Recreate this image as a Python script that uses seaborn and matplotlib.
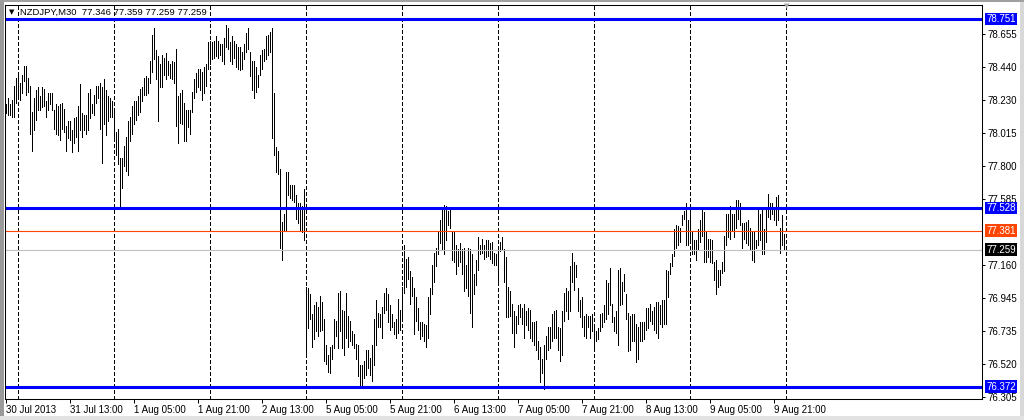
import matplotlib
matplotlib.use("Agg")
import matplotlib.pyplot as plt
from matplotlib.patches import Rectangle
import seaborn as sns
import numpy as np
import pandas as pd

# NZDJPY M30, 30 Jul 2013 21:00 .. 9 Aug 2013 23:30 (one value per bar)
highs = [
    78.20, 78.24, 78.20, 78.23, 78.32, 78.37, 78.38, 78.34, 78.39, 78.45,
    78.45, 78.37, 78.32, 78.15, 78.24, 78.29, 78.31, 78.25, 78.31, 78.30,
    78.22, 78.27, 78.27, 78.27, 78.16, 78.20, 78.19, 78.20, 78.21, 78.17,
    78.06, 78.09, 78.09, 78.03, 78.11, 78.12, 78.19, 78.33, 78.14, 78.13,
    78.13, 78.27, 78.30, 78.20, 78.26, 78.32, 78.32, 78.34, 78.31, 78.36,
    78.29, 78.25, 78.24, 78.22, 78.15, 78.02, 78.04, 77.85, 77.85, 77.93,
    77.99, 78.09, 78.12, 78.19, 78.22, 78.22, 78.25, 78.30, 78.31, 78.37,
    78.38, 78.37, 78.48, 78.65, 78.69, 78.55, 78.51, 78.46, 78.52, 78.50,
    78.53, 78.48, 78.46, 78.48, 78.47, 78.56, 78.25, 78.27, 78.29, 78.21,
    78.16, 78.16, 78.16, 78.28, 78.36, 78.40, 78.43, 78.43, 78.41, 78.44,
    78.46, 78.60, 78.61, 78.60, 78.61, 78.64, 78.61, 78.59, 78.59, 78.63,
    78.71, 78.69, 78.60, 78.64, 78.61, 78.59, 78.57, 78.57, 78.54, 78.59,
    78.66, 78.69, 78.54, 78.48, 78.48, 78.44, 78.39, 78.52, 78.55, 78.56,
    78.64, 78.65, 78.67, 78.69, 78.27, 77.92, 77.90, 77.78, 77.44, 77.49,
    77.76, 77.76, 77.68, 77.68, 77.68, 77.61, 77.56, 77.56, 77.54, 77.65,
    77.02, 77.01, 76.97, 76.84, 76.90, 76.92, 76.89, 76.96, 76.92, 76.81,
    76.64, 76.58, 76.63, 76.64, 76.81, 76.80, 76.98, 76.99, 76.87, 76.86,
    76.98, 76.83, 76.80, 76.73, 76.71, 76.65, 76.64, 76.51, 76.51, 76.54,
    76.61, 76.61, 76.56, 76.64, 76.81, 76.93, 76.85, 76.84, 76.89, 76.98,
    77.01, 76.97, 76.90, 76.84, 76.79, 76.81, 76.94, 76.87, 77.02, 77.29,
    77.20, 77.21, 77.12, 77.08, 77.01, 76.95, 76.88, 76.79, 76.79, 76.78,
    76.77, 76.95, 77.01, 77.16, 77.24, 77.27, 77.37, 77.45, 77.53, 77.55,
    77.54, 77.51, 77.52, 77.38, 77.37, 77.29, 77.26, 77.30, 77.26, 77.27,
    77.16, 77.27, 77.26, 77.23, 77.10, 77.19, 77.34, 77.29, 77.33, 77.29,
    77.32, 77.32, 77.30, 77.31, 77.24, 77.23, 77.26, 77.31, 77.34, 77.26,
    77.21, 77.02, 76.99, 76.91, 76.86, 76.83, 76.90, 76.91, 76.88, 76.91,
    76.86, 76.88, 76.87, 76.79, 76.79, 76.80, 76.67, 76.63, 76.55, 76.64,
    76.70, 76.76, 76.76, 76.84, 76.86, 76.87, 76.76, 76.75, 76.86, 76.98,
    77.01, 76.99, 77.15, 77.24, 77.18, 77.16, 77.01, 76.93, 76.95, 76.83,
    76.84, 76.83, 76.83, 76.84, 76.77, 76.73, 76.75, 76.84, 76.85, 76.90,
    77.06, 77.04, 77.14, 76.91, 76.82, 76.86, 77.13, 77.14, 77.05, 77.10,
    76.97, 76.85, 76.83, 76.84, 76.84, 76.78, 76.76, 76.79, 76.79, 76.79,
    76.88, 76.88, 76.91, 76.86, 76.89, 76.92, 76.92, 76.90, 76.93, 76.93,
    77.13, 77.12, 77.17, 77.23, 77.39, 77.42, 77.41, 77.40, 77.48, 77.51,
    77.56, 77.45, 77.53, 77.38, 77.32, 77.32, 77.39, 77.45, 77.53, 77.50,
    77.38, 77.33, 77.33, 77.32, 77.18, 77.19, 77.13, 77.13, 77.18, 77.35,
    77.49, 77.49, 77.54, 77.49, 77.49, 77.58, 77.58, 77.56, 77.43, 77.43,
    77.44, 77.45, 77.40, 77.38, 77.37, 77.32, 77.53, 77.49, 77.52, 77.39,
    77.53, 77.62, 77.56, 77.56, 77.53, 77.60, 77.61, 77.40, 77.48, 77.359,
]
lows = [
    78.14, 78.13, 78.13, 78.12, 78.12, 78.21, 78.26, 78.23, 78.27, 78.35,
    78.26, 78.28, 78.01, 77.90, 78.03, 78.10, 78.16, 78.16, 78.18, 78.19,
    78.12, 78.16, 78.20, 78.16, 78.04, 78.01, 78.00, 77.97, 78.04, 78.02,
    77.90, 77.98, 77.97, 77.89, 77.95, 77.99, 77.90, 78.03, 77.99, 78.03,
    78.01, 78.03, 78.11, 78.14, 78.13, 78.21, 78.24, 78.04, 77.82, 78.07,
    78.00, 78.09, 78.12, 78.12, 77.98, 77.87, 77.81, 77.53, 77.66, 77.80,
    77.77, 77.74, 77.96, 78.01, 78.07, 78.10, 78.13, 78.15, 78.22, 78.26,
    78.26, 78.27, 78.34, 78.41, 78.49, 78.36, 78.09, 78.31, 78.31, 78.39,
    78.36, 78.39, 78.37, 78.36, 78.34, 78.06, 77.95, 78.08, 78.07, 77.96,
    77.96, 78.05, 78.01, 78.15, 78.24, 78.28, 78.31, 78.29, 78.23, 78.27,
    78.32, 78.43, 78.46, 78.49, 78.50, 78.51, 78.50, 78.52, 78.48, 78.46,
    78.57, 78.56, 78.48, 78.46, 78.50, 78.44, 78.43, 78.42, 78.43, 78.49,
    78.54, 78.56, 78.38, 78.29, 78.24, 78.28, 78.31, 78.39, 78.43, 78.48,
    78.49, 78.52, 78.54, 77.98, 77.87, 77.76, 77.75, 77.27, 77.19, 77.38,
    77.38, 77.61, 77.59, 77.58, 77.57, 77.46, 77.43, 77.38, 77.37, 77.32,
    76.58, 76.75, 76.81, 76.63, 76.68, 76.73, 76.70, 76.73, 76.74, 76.54,
    76.52, 76.47, 76.46, 76.55, 76.62, 76.70, 76.62, 76.73, 76.62, 76.58,
    76.69, 76.63, 76.67, 76.64, 76.62, 76.55, 76.44, 76.38, 76.38, 76.43,
    76.45, 76.49, 76.45, 76.41, 76.51, 76.64, 76.76, 76.76, 76.69, 76.85,
    76.87, 76.79, 76.74, 76.76, 76.71, 76.69, 76.72, 76.74, 76.80, 76.98,
    77.02, 77.07, 76.91, 76.96, 76.71, 76.80, 76.74, 76.68, 76.70, 76.67,
    76.63, 76.69, 76.84, 76.97, 77.05, 77.15, 77.23, 77.30, 77.26, 77.23,
    77.32, 77.42, 77.40, 77.19, 77.18, 77.10, 77.15, 77.18, 77.10, 76.99,
    77.01, 76.96, 76.85, 76.76, 76.97, 77.03, 77.13, 77.23, 77.24, 77.20,
    77.21, 77.22, 77.20, 77.17, 77.16, 77.16, 77.05, 77.25, 77.26, 77.05,
    76.82, 76.82, 76.83, 76.72, 76.63, 76.72, 76.78, 76.82, 76.78, 76.69,
    76.77, 76.74, 76.69, 76.67, 76.64, 76.61, 76.55, 76.40, 76.46, 76.36,
    76.55, 76.61, 76.62, 76.67, 76.69, 76.69, 76.61, 76.54, 76.58, 76.80,
    76.86, 76.81, 76.86, 77.05, 77.00, 77.08, 76.86, 76.82, 76.76, 76.70,
    76.69, 76.76, 76.69, 76.73, 76.61, 76.67, 76.68, 76.73, 76.76, 76.79,
    76.81, 76.84, 76.90, 76.79, 76.73, 76.72, 76.64, 76.90, 76.91, 76.99,
    76.81, 76.60, 76.61, 76.67, 76.67, 76.53, 76.55, 76.67, 76.67, 76.68,
    76.74, 76.75, 76.80, 76.78, 76.74, 76.72, 76.69, 76.78, 76.76, 76.78,
    76.78, 76.95, 77.10, 77.15, 77.22, 77.27, 77.29, 77.31, 77.42, 77.46,
    77.29, 77.29, 77.32, 77.23, 77.23, 77.19, 77.26, 77.31, 77.35, 77.18,
    77.18, 77.21, 77.18, 77.17, 77.06, 76.97, 77.02, 77.03, 77.11, 77.12,
    77.29, 77.34, 77.33, 77.38, 77.34, 77.40, 77.46, 77.42, 77.27, 77.33,
    77.30, 77.29, 77.26, 77.19, 77.18, 77.27, 77.29, 77.32, 77.23, 77.23,
    77.31, 77.47, 77.46, 77.49, 77.45, 77.42, 77.45, 77.24, 77.29, 77.259,
]

# daily period separators (bar index of each day's first bar)
day_starts = [6, 54, 102, 150, 198, 246, 294, 342, 390]
date_labels = ["30 Jul 2013", "31 Jul 13:00", "1 Aug 05:00", "1 Aug 21:00",
               "2 Aug 13:00", "5 Aug 05:00", "5 Aug 21:00", "6 Aug 13:00",
               "7 Aug 05:00", "7 Aug 21:00", "8 Aug 13:00", "9 Aug 05:00",
               "9 Aug 21:00"]
label_step = 32  # one date label every 32 bars

price_ticks = [78.655, 78.440, 78.230, 78.015, 77.800, 77.585,
               77.160, 76.945, 76.735, 76.520, 76.305]
levels = [78.751, 77.528, 76.372]
red_level = 77.381
bid = 77.259
header = "NZDJPY,M30  77.346 77.359 77.259 77.259"

sns.set_style("white")
plt.rcParams['font.family'] = ['Liberation Sans', 'DejaVu Sans']

W, H = 1024, 420
fig = plt.figure(figsize=(W / 100, H / 100), dpi=100, facecolor='white')
ax = fig.add_axes([5 / W, 1 - 399 / H, 977 / W, 394 / H])
ax.set_facecolor('white')

# window frame
fig.add_artist(Rectangle((0, 0), 3.5 / W, 1, transform=fig.transFigure,
                         fc='#9a9a9a', ec='none'))
fig.add_artist(Rectangle((1020 / W, 0), 4 / W, 1, transform=fig.transFigure,
                         fc='#d8d8d8', ec='none'))
fig.add_artist(Rectangle((0, 0), 1, 4 / H, transform=fig.transFigure,
                         fc='#e2e2e2', ec='none'))
fig.add_artist(Rectangle((0, 1 - 1.5 / H), 1, 1.5 / H, transform=fig.transFigure,
                         fc='#a0a0a0', ec='none'))

n = len(highs)
bars = pd.DataFrame({
    'bar': np.repeat(np.arange(n), 2),
    'price': np.column_stack([highs, lows]).ravel(),
})
sns.lineplot(data=bars, x='bar', y='price', units='bar', estimator=None,
             color='black', lw=0.7, antialiased=False, legend=False, ax=ax)

for d in day_starts:
    ax.axvline(d, color='black', lw=0.72, ls=(0, (3, 2.5)), antialiased=False)

ax.axhline(bid, color='#c0c0c0', lw=0.8)
ax.axhline(red_level, color='#ff4500', lw=0.8)
for lv in levels:
    ax.axhline(lv, color='#0000ff', lw=2.2)

ax.set_xlim(-0.25, 488.25)
ax.set_ylim(76.2924, 78.8416)

ax.yaxis.tick_right()
ax.set_yticks(price_ticks)
ax.set_yticklabels([f"{v:.3f}" for v in price_ticks])
ax.set_xticks(np.arange(len(date_labels)) * label_step)
ax.set_xticklabels(date_labels)
for lbl in ax.get_xticklabels():
    lbl.set_ha('left')
ax.tick_params(axis='y', right=True, left=False, direction='out', length=2.5,
               width=0.72, pad=1.5, labelsize=7, colors='black')
ax.tick_params(axis='x', bottom=True, direction='out', length=3,
               width=0.72, pad=1.2, labelsize=7, colors='black')
ax.set_xlabel('')
ax.set_ylabel('')
for s in ax.spines.values():
    s.set_visible(True)
    s.set_color('black')
    s.set_linewidth(0.75)

box_style = dict(boxstyle='square,pad=0.15', ec='none')
for lv in levels:
    ax.annotate(f"{lv:.3f}", xy=(1, lv), xycoords=('axes fraction', 'data'),
                xytext=(3, 0), textcoords='offset points', ha='left', va='center',
                fontsize=7, color='white', bbox=dict(fc='#0000ff', **box_style))
ax.annotate(f"{red_level:.3f}", xy=(1, red_level), xycoords=('axes fraction', 'data'),
            xytext=(3, 0), textcoords='offset points', ha='left', va='center',
            fontsize=7, color='white', bbox=dict(fc='#ff4500', **box_style))
ax.annotate(f"{bid:.3f}", xy=(1, bid), xycoords=('axes fraction', 'data'),
            xytext=(3, 0), textcoords='offset points', ha='left', va='center',
            fontsize=7, color='white', bbox=dict(fc='black', **box_style))

# header and chart-shift marker
fig.text(9 / W, 1 - 12 / H, "\u25bc", fontsize=5, family='DejaVu Sans',
         va='center', ha='left', color='black')
fig.text(20 / W, 1 - 12 / H, header, fontsize=6.8, va='center', ha='left',
         color='black')
fig.text(787 / W, 1 - 6 / H, "\u25bc", fontsize=5, family='DejaVu Sans',
         va='center', ha='center', color='#a8a8a8')

fig.savefig('out.png', dpi=100, facecolor='white')
